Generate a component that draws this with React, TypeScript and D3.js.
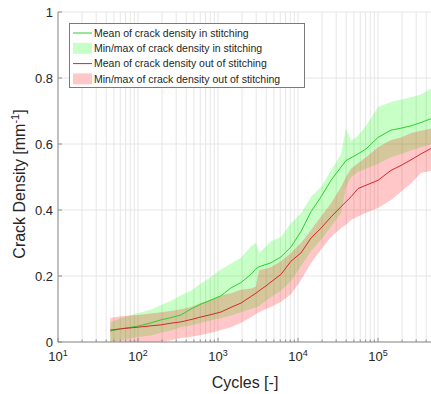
import React, { useEffect, useRef } from 'react';
import * as d3 from 'd3';

// cycles at which the curves were sampled
const cycles = [45, 61, 100, 145, 194, 259, 345, 460, 613, 817, 1090, 1454, 1939, 2585, 2985, 3254, 3981, 4597, 6131, 8175, 10902, 14537, 19387, 25852, 34474, 39811, 45973, 56234, 70795, 100000, 145400, 193870, 258520, 344740, 473150];

// crack density in stitching
const inMean = [0.033, 0.040, 0.048, 0.058, 0.067, 0.074, 0.082, 0.100, 0.115, 0.127, 0.140, 0.164, 0.180, 0.205, 0.222, 0.228, 0.235, 0.240, 0.258, 0.288, 0.335, 0.395, 0.440, 0.490, 0.530, 0.550, 0.558, 0.570, 0.585, 0.620, 0.642, 0.648, 0.655, 0.665, 0.678];
const inMax = [0.060, 0.072, 0.088, 0.098, 0.112, 0.125, 0.142, 0.155, 0.177, 0.197, 0.220, 0.238, 0.255, 0.290, 0.300, 0.270, 0.290, 0.305, 0.318, 0.360, 0.390, 0.440, 0.470, 0.520, 0.570, 0.648, 0.610, 0.625, 0.655, 0.712, 0.727, 0.735, 0.742, 0.750, 0.770];
const inMin = [0.000, 0.005, 0.015, 0.020, 0.028, 0.035, 0.045, 0.050, 0.058, 0.066, 0.073, 0.080, 0.090, 0.100, 0.105, 0.108, 0.125, 0.136, 0.155, 0.185, 0.230, 0.275, 0.310, 0.350, 0.390, 0.470, 0.500, 0.515, 0.525, 0.540, 0.560, 0.570, 0.580, 0.590, 0.600];

// crack density out of stitching
const outMean = [0.036, 0.040, 0.045, 0.049, 0.052, 0.057, 0.061, 0.068, 0.076, 0.083, 0.091, 0.105, 0.118, 0.138, 0.148, 0.155, 0.170, 0.182, 0.205, 0.245, 0.270, 0.315, 0.345, 0.379, 0.410, 0.425, 0.440, 0.465, 0.475, 0.490, 0.520, 0.535, 0.552, 0.570, 0.588];
const outMax = [0.073, 0.078, 0.082, 0.086, 0.090, 0.094, 0.099, 0.106, 0.118, 0.128, 0.142, 0.148, 0.158, 0.162, 0.168, 0.218, 0.222, 0.227, 0.245, 0.270, 0.300, 0.339, 0.380, 0.420, 0.470, 0.500, 0.525, 0.542, 0.560, 0.590, 0.612, 0.620, 0.633, 0.640, 0.648];
const outMin = [0, 0, 0, 0, 0, 0.005, 0.012, 0.016, 0.021, 0.028, 0.036, 0.045, 0.058, 0.075, 0.085, 0.090, 0.100, 0.106, 0.122, 0.145, 0.188, 0.239, 0.280, 0.318, 0.345, 0.355, 0.370, 0.380, 0.392, 0.406, 0.430, 0.455, 0.480, 0.512, 0.520];

const yTicks = [0, 0.2, 0.4, 0.6, 0.8, 1];
const yTickLabels = ['0', '0.2', '0.4', '0.6', '0.8', '1'];
const xDecades = [1, 2, 3, 4, 5];

const legendItems = [
  { label: 'Mean of crack density in stitching', kind: 'line', color: '#2fcf2f' },
  { label: 'Min/max of crack density in stitching', kind: 'patch', color: '#00ff00' },
  { label: 'Mean of crack density out of stitching', kind: 'line', color: '#d42a2a' },
  { label: 'Min/max of crack density out of stitching', kind: 'patch', color: '#ff0000' },
];

const W = 431;
const H = 394;
const left = 58;
const top = 12;
const bottom = 342;
const FONT = '"Liberation Sans", Arial, Helvetica, sans-serif';
const TEXT = '#262626';

const App = () => {
  const ref = useRef<SVGSVGElement>(null);

  useEffect(() => {
    const svg = d3.select(ref.current);
    svg.selectAll('*').remove();

    const x = d3.scaleLog().domain([10, 5e5]).range([left, left + 80 * Math.log10(5e4)]);
    const y = d3.scaleLinear().domain([0, 1]).range([bottom, top]);

    // grid: major + minor decades on x, values on y
    const xGrid: number[] = [];
    for (let e = 1; e <= 5; e++) {
      for (let m = 1; m <= 9; m++) {
        const v = m * Math.pow(10, e);
        if (v <= 5e5) xGrid.push(v);
      }
    }
    const grid = svg.append('g');
    grid.selectAll('line.v')
      .data(xGrid)
      .enter()
      .append('line')
        .attr('x1', d => x(d)).attr('x2', d => x(d))
        .attr('y1', top).attr('y2', bottom)
        .attr('stroke', '#e6e6e6').attr('stroke-width', 1);
    grid.selectAll('line.h')
      .data(yTicks)
      .enter()
      .append('line')
        .attr('x1', left).attr('x2', W)
        .attr('y1', d => y(d)).attr('y2', d => y(d))
        .attr('stroke', '#e6e6e6').attr('stroke-width', 1);

    const idx = d3.range(cycles.length);

    // min/max bands, red drawn over green
    const bandIn = d3.area<number>()
      .x(i => x(cycles[i]))
      .y0(i => y(inMin[i]))
      .y1(i => y(inMax[i]));
    const bandOut = d3.area<number>()
      .x(i => x(cycles[i]))
      .y0(i => y(outMin[i]))
      .y1(i => y(outMax[i]));

    svg.append('path').datum(idx)
      .attr('d', bandIn)
      .attr('fill', '#00ff00').attr('fill-opacity', 0.22);
    svg.append('path').datum(idx)
      .attr('d', bandOut)
      .attr('fill', '#ff0000').attr('fill-opacity', 0.22);

    const lineIn = d3.line<number>().x(i => x(cycles[i])).y(i => y(inMean[i]));
    const lineOut = d3.line<number>().x(i => x(cycles[i])).y(i => y(outMean[i]));

    svg.append('path').datum(idx)
      .attr('d', lineIn)
      .attr('fill', 'none').attr('stroke', '#2fcf2f').attr('stroke-width', 1);
    svg.append('path').datum(idx)
      .attr('d', lineOut)
      .attr('fill', 'none').attr('stroke', '#d42a2a').attr('stroke-width', 1);

    // axes lines
    const axes = svg.append('g').attr('stroke', '#8c8c8c').attr('stroke-width', 1);
    axes.append('line').attr('x1', left).attr('x2', left).attr('y1', top).attr('y2', bottom);
    axes.append('line').attr('x1', left).attr('x2', W).attr('y1', bottom).attr('y2', bottom);

    // ticks (pointing inward)
    axes.selectAll('line.yt')
      .data(yTicks)
      .enter()
      .append('line')
        .attr('x1', left).attr('x2', left + 4)
        .attr('y1', d => y(d)).attr('y2', d => y(d));
    axes.selectAll('line.xt')
      .data(xGrid)
      .enter()
      .append('line')
        .attr('x1', d => x(d)).attr('x2', d => x(d))
        .attr('y1', bottom).attr('y2', d => (Math.abs(Math.log10(d) % 1) < 1e-9 ? bottom - 4 : bottom - 2.5));

    // tick labels
    svg.selectAll('text.ytl')
      .data(yTicks)
      .enter()
      .append('text')
        .attr('x', left - 5)
        .attr('y', d => y(d))
        .attr('dy', '0.35em')
        .attr('text-anchor', 'end')
        .attr('font-family', FONT).attr('font-size', 13).attr('fill', TEXT)
        .text((_, i) => yTickLabels[i]);

    xDecades.forEach(e => {
      const t = svg.append('text')
        .attr('x', x(Math.pow(10, e)))
        .attr('y', 361)
        .attr('text-anchor', 'middle')
        .attr('font-family', FONT).attr('font-size', 13).attr('fill', TEXT);
      t.append('tspan').text('10');
      t.append('tspan').attr('dy', -5).attr('font-size', 9).text(String(e));
    });

    // axis titles
    svg.append('text')
      .attr('x', 245).attr('y', 388)
      .attr('text-anchor', 'middle')
      .attr('font-family', FONT).attr('font-size', 16).attr('fill', TEXT)
      .text('Cycles [-]');

    const yl = svg.append('text')
      .attr('transform', 'translate(25,184) rotate(-90)')
      .attr('text-anchor', 'middle')
      .attr('font-family', FONT).attr('font-size', 16).attr('fill', TEXT);
    yl.append('tspan').text('Crack Density [mm');
    yl.append('tspan').attr('dy', -6).attr('font-size', 11).text('-1');
    yl.append('tspan').attr('dy', 6).text(']');

    // legend
    const lg = svg.append('g');
    lg.append('rect')
      .attr('x', 69.5).attr('y', 23.5).attr('width', 235).attr('height', 64)
      .attr('fill', 'white').attr('stroke', '#7a7a7a').attr('stroke-width', 1);
    legendItems.forEach((item, i) => {
      const cy = 33 + i * 15.3;
      if (item.kind === 'line') {
        lg.append('line')
          .attr('x1', 73).attr('x2', 92).attr('y1', cy).attr('y2', cy)
          .attr('stroke', item.color).attr('stroke-width', 1);
      } else {
        lg.append('rect')
          .attr('x', 73).attr('y', cy - 5.5).attr('width', 19).attr('height', 11)
          .attr('fill', item.color).attr('fill-opacity', 0.22);
      }
      lg.append('text')
        .attr('x', 94).attr('y', cy).attr('dy', '0.35em')
        .attr('font-family', FONT).attr('font-size', 10.5).attr('fill', TEXT)
        .text(item.label);
    });
  }, []);

  return (
    <svg
      ref={ref}
      width={W}
      height={H}
      style={{ position: 'absolute', left: 0, top: 0, background: 'white' }}
    />
  );
};

export default App;
